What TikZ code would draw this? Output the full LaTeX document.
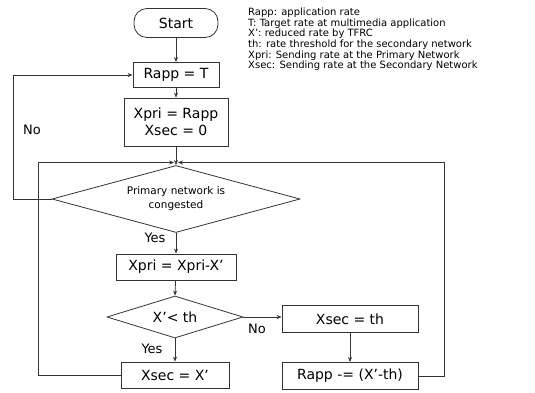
\documentclass[tikz,border=0pt]{standalone}
\usepackage{fontspec}
\setmainfont{DejaVu Sans}
\usetikzlibrary{shapes.geometric,arrows.meta}
\begin{document}
\begin{tikzpicture}[x=1pt,y=-1pt,
  ln/.style={draw=black!80,line width=0.8pt},
  arr/.style={ln,-{Stealth[length=5pt,width=4pt]}},
  box/.style={ln,rectangle,inner sep=0pt,font=\fontsize{14}{16}\selectfont,align=center},
  dia/.style={ln,diamond,inner sep=0pt,align=center},
  lbl/.style={font=\fontsize{13}{15}\selectfont,inner sep=0pt}]
\useasboundingbox (0,0) rectangle (535,393);
\node[box,rounded corners=13pt,minimum width=84pt,minimum height=29pt] (start) at (176,23) {Start};
\node[box,minimum width=86pt,minimum height=25pt] (rappT) at (176,75) {Rapp = T};
\node[box,minimum width=104pt,minimum height=48pt,font=\fontsize{14}{17}\selectfont] (xpri) at (176,122) {Xpri = Rapp\\Xsec = 0};
\node[dia,aspect=3.7,minimum width=248pt,minimum height=67pt,font=\fontsize{10.5}{14}\selectfont] (d1) at (176,199) {Primary network is\\congested};
\node[box,minimum width=120pt,minimum height=26pt] (xpri2) at (176,267) {Xpri = Xpri-X'};
\node[dia,aspect=3.2,minimum width=136pt,minimum height=42pt,font=\fontsize{14}{16}\selectfont] (d2) at (175,317) {X'< th};
\node[box,minimum width=136pt,minimum height=27pt] (xsecth) at (350,319) {Xsec = th};
\node[box,minimum width=108pt,minimum height=26pt] (xsecX) at (175,375) {Xsec = X'};
\node[box,minimum width=136pt,minimum height=27pt] (rappm) at (350,376) {Rapp -= (X'-th)};
\coordinate (merge) at (176,162.5);
\coordinate (r1) at (444,376);
\coordinate (r2) at (444,162.5);
\coordinate (l1) at (38,375);
\coordinate (l2) at (38,162.5);
\coordinate (n1) at (13,199);
\coordinate (n2) at (13,75);
\node[anchor=north west,inner sep=0pt,align=left,font=\fontsize{10}{10.6}\selectfont] (legend) at (248,8) {Rapp: application rate\\T: Target rate at multimedia application\\X': reduced rate by TFRC\\th: rate threshold for the secondary network\\Xpri: Sending rate at the Primary Network\\Xsec: Sending rate at the Secondary Network};
\draw[arr] (start) -- (rappT);
\draw[arr] (rappT) -- (xpri);
\draw[arr] (xpri) -- (d1.north);
\draw[arr] (d1) -- (xpri2);
\draw[arr] (xpri2) -- (d2.north);
\draw[arr] (d2.south) -- (xsecX);
\draw[arr] (d2.east) -- (d2.east -| xsecth.west);
\draw[arr] (xsecth) -- (rappm);
\draw[arr] (rappm.east) -- (r1) -- (r2) -- ([xshift=2pt]merge);
\draw[arr] (xsecX.west) -- (l1) -- (l2) -- ([xshift=-2pt]merge);
\draw[arr] (d1.west) -- (n1) -- (n2) -- (rappT.west);
\node[lbl] (no1) at (32,130) {No};
\node[lbl] (yes1) at (155,238) {Yes};
\node[lbl] (yes2) at (152,349) {Yes};
\node[lbl] (no2) at (257,329) {No};
\end{tikzpicture}
\end{document}
